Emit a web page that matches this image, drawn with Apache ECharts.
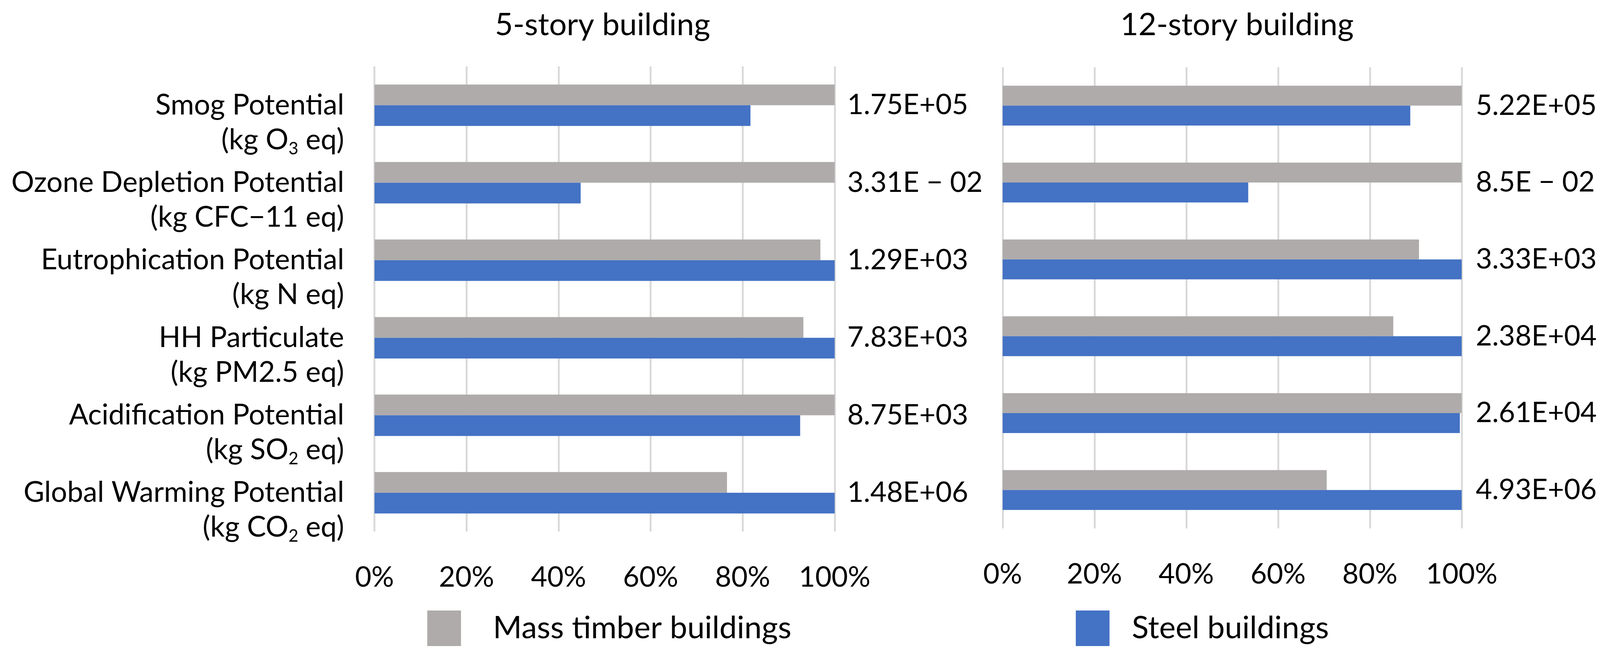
<!DOCTYPE html>
<html><head><meta charset="utf-8">
<script src="https://cdn.jsdelivr.net/npm/echarts@6/dist/echarts.min.js"></script>
<style>html,body{margin:0;padding:0;background:#fff;overflow:hidden;width:100%;height:100%}#c{width:100%;height:100%}</style>
</head><body><div id="c"></div>
<script>
const categories = ['Smog Potential', 'Ozone Depletion Potential', 'Eutrophication Potential', 'HH Particulate', 'Acidification Potential', 'Global Warming Potential'];
const units = ['(kg O_3 eq)', '(kg CFC\u221211 eq)', '(kg N eq)', '(kg PM2.5 eq)', '(kg SO_2 eq)', '(kg CO_2 eq)'];
const massTimber5 = [100, 100, 96.9, 93.2, 100, 76.6];
const steel5 = [81.7, 44.8, 100, 100, 92.5, 100];
const massTimber12 = [100, 100, 90.7, 85.1, 100, 70.6];
const steel12 = [88.8, 53.5, 100, 100, 99.6, 100];
const totals5 = ['1.75E+05', '3.31E \u2212 02', '1.29E+03', '7.83E+03', '8.75E+03', '1.48E+06'];
const totals12 = ['5.22E+05', '8.5E \u2212 02', '3.33E+03', '2.38E+04', '2.61E+04', '4.93E+06'];
const titles = ['5-story building', '12-story building'];
const seriesNames = ['Mass timber buildings', 'Steel buildings'];
const colors = ['#AFABAB', '#4472C4'];

const FONT = 'Lato';
const el = document.getElementById('c');
const W = el.clientWidth || window.innerWidth, H = el.clientHeight || window.innerHeight;
const sx = W / 4315, sy = H / 1681, s = Math.min(sx, sy);
const X = v => v * sx, Y = v => v * sy, F = v => v * s;

function catLabel(v, i) {
  const u = units[i].replace(/_(\d)/g, '}{s|$1}{a|');
  return '{a| }\n{a|' + v + '}\n{a|' + u + '}';
}
const chart = echarts.init(el);
function xAx(g, margin) {
  return {
    gridIndex: g, type: 'value', min: 0, max: 100, interval: 20,
    axisLine: {show: false}, axisTick: {show: false},
    splitLine: {show: true, lineStyle: {color: '#D9D9D9', width: F(5)}},
    axisLabel: {formatter: '{value}%', fontFamily: FONT, fontSize: F(76), color: '#000', margin: Y(margin), lineHeight: F(80)}
  };
}
function valAx(g, data, margin) {
  return {
    gridIndex: g, type: 'category', data: data, inverse: true, position: 'right',
    axisLine: {show: false}, axisTick: {show: false}, splitLine: {show: false},
    axisLabel: {interval: 0, align: 'left', margin: X(margin), fontFamily: FONT, fontSize: F(76), color: '#000'}
  };
}
function bar(g, k, data, w) {
  return {
    type: 'bar', name: seriesNames[k], xAxisIndex: g, yAxisIndex: g * 2, data: data,
    barWidth: Y(w), barGap: '0%', itemStyle: {color: colors[k]}, silent: true, animation: false
  };
}
const legendText = {fontFamily: FONT, fontSize: F(84), color: '#000'};
chart.setOption({
  animation: false,
  backgroundColor: '#fff',
  grid: [
    {left: X(1010), top: Y(170), width: X(1241), height: Y(1190)},
    {left: X(2704), top: Y(172), width: X(1238), height: Y(1180)}
  ],
  xAxis: [xAx(0, 80), xAx(1, 80)],
  yAxis: [
    {gridIndex: 0, type: 'category', data: categories, inverse: true,
      axisLine: {show: false}, axisTick: {show: false},
      axisLabel: {interval: 0, showMinLabel: true, showMaxLabel: true, hideOverlap: false,
        formatter: catLabel, margin: X(82), align: 'right',
        rich: {
          a: {fontFamily: FONT, fontSize: F(77), lineHeight: Y(89), color: '#000', align: 'right'},
          s: {fontFamily: FONT, fontSize: F(46), lineHeight: Y(47), color: '#000', align: 'right', verticalAlign: 'bottom'}
        }}},
    valAx(0, totals5, 34),
    {gridIndex: 1, type: 'category', data: categories, inverse: true,
      axisLine: {show: false}, axisTick: {show: false}, axisLabel: {show: false}},
    valAx(1, totals12, 38)
  ],
  legend: [
    {data: [seriesNames[0]], left: X(1147), top: Y(1557), itemWidth: X(91), itemHeight: Y(91), icon: 'rect',
      selectedMode: false, textStyle: Object.assign({padding: [0, 0, 0, X(81)]}, legendText)},
    {data: [seriesNames[1]], left: X(2896), top: Y(1557), itemWidth: X(91), itemHeight: Y(91), icon: 'rect',
      selectedMode: false, textStyle: Object.assign({padding: [0, 0, 0, X(55)]}, legendText)}
  ],
  graphic: [
    {type: 'text', x: X(1625), y: Y(64), style: {text: titles[0], fontFamily: FONT, fontSize: F(84), fill: '#000', textAlign: 'center', textVerticalAlign: 'middle'}},
    {type: 'text', x: X(3336), y: Y(64), style: {text: titles[1], fontFamily: FONT, fontSize: F(84), fill: '#000', textAlign: 'center', textVerticalAlign: 'middle'}}
  ],
  series: [
    bar(0, 0, massTimber5, 53), bar(0, 1, steel5, 53),
    bar(1, 0, massTimber12, 51), bar(1, 1, steel12, 51)
  ]
});
</script></body></html>
